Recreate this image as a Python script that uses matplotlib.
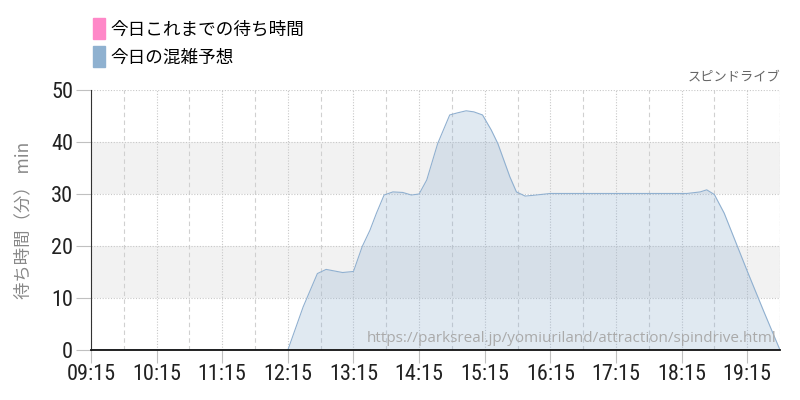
import matplotlib
matplotlib.use("Agg")
import matplotlib.pyplot as plt
from matplotlib import font_manager
from matplotlib.patches import Patch

plt.rcParams['font.family'] = ['Noto Sans CJK JP', 'DejaVu Sans']

# forecast curve (time, minutes)
times = ["09:15", "12:00", "12:06", "12:15", "12:29", "12:42", "12:50", "13:05",
         "13:15", "13:23", "13:30", "13:36", "13:43", "13:51", "14:00", "14:08",
         "14:15", "14:22", "14:32", "14:43", "14:50", "14:58", "15:05", "15:13",
         "15:21", "15:27", "15:38", "15:44", "15:52", "16:02", "16:15", "18:20",
         "18:32", "18:38", "18:45", "18:54", "19:15", "19:30", "19:45"]
forecast = [0, 0, -0.5, 0, 8.3, 14.7, 15.5, 14.9,
            15.1, 19.9, 23, 26.3, 29.8, 30.4, 30.3, 29.8,
            30, 32.7, 39.7, 45.2, 45.6, 46, 45.8, 45.2,
            42.3, 39.7, 33.3, 30.4, 29.6, 29.8, 30.1, 30.1,
            30.4, 30.8, 29.9, 26.3, 15.2, 7.5, 0]
today_actual = []  # no data yet

tick_labels = ["09:15", "10:15", "11:15", "12:15", "13:15", "14:15",
               "15:15", "16:15", "17:15", "18:15", "19:15"]
y_ticks = [0, 10, 20, 30, 40, 50]


def to_hours(s):
    h, m = s.split(":")
    return int(h) + int(m) / 60


x = [to_hours(t) for t in times]

installed = {f.name for f in font_manager.fontManager.ttflist}
if 'Roboto Condensed' in installed:
    num_font, num_size = ['Roboto Condensed', 'DejaVu Sans'], 16
else:
    num_font, num_size = ['Roboto', 'DejaVu Sans'], 14

fig = plt.figure(figsize=(8, 4), dpi=100)
ax = fig.add_axes([91 / 800, 50 / 400, 689 / 800, 260 / 400])

ax.set_xlim(to_hours("09:15"), to_hours("19:45"))
ax.set_ylim(0, 50)

# alternating bands
for lo in (10, 30):
    ax.axhspan(lo, lo + 10, color='#f2f2f2', zorder=0, lw=0)

ax.fill_between(x, forecast, 0, color='#90b0d0', alpha=0.28, lw=0, zorder=2)
ax.plot(x, forecast, color='#90b0d0', lw=0.8, zorder=3)
ax.plot([to_hours(t) for t in times[:len(today_actual)]], today_actual,
        color='#ff88cc', lw=1.5, zorder=4)

tick_pos = [to_hours(t) for t in tick_labels]
ax.set_xticks(tick_pos)
ax.set_xticklabels(tick_labels)
ax.set_xticks([p + 0.5 for p in tick_pos], minor=True)
ax.set_yticks(y_ticks)

ax.grid(True, which='major', axis='x', color='#c8c8c8', ls=(0, (1, 1.5)), lw=0.8, zorder=1)
ax.grid(True, which='minor', axis='x', color='#d0d0d0', ls=(0, (4, 3)), lw=0.8, zorder=1)
ax.grid(True, which='major', axis='y', color='#c8c8c8', ls=(0, (1, 1.5)), lw=0.8, zorder=1)
ax.axvline(to_hours("19:45"), color='#c8c8c8', ls=(0, (1, 1.5)), lw=0.8, zorder=1)

for s in ('top', 'right'):
    ax.spines[s].set_visible(False)
ax.spines['left'].set_color('#333333')
ax.spines['bottom'].set_color('#111111')
ax.spines['bottom'].set_linewidth(1.3)
ax.spines['bottom'].set_zorder(5)

ax.tick_params(axis='both', which='major', color='#c0c0c0', labelsize=num_size,
               labelcolor='#222222')
ax.tick_params(axis='y', which='major', length=11, pad=2)
ax.tick_params(axis='x', which='major', length=9, pad=1)
ax.tick_params(axis='x', which='minor', length=0)
for lab in ax.get_xticklabels() + ax.get_yticklabels():
    lab.set_family(num_font)

ax.set_ylabel('待ち時間（分） min', fontsize=12.5, color='#888888', labelpad=13)

fig.text(780 / 800, 1 - 77 / 400, 'スピンドライブ', ha='right', va='center',
         fontsize=9.5, color='#666666')
ax.text(0.995, 0.045, 'https://parksreal.jp/yomiuriland/attraction/spindrive.html',
        transform=ax.transAxes, ha='right', va='center', fontsize=11,
        color='#aaaaaa', family=['Open Sans', 'DejaVu Sans'], zorder=4)

handles = [Patch(color='#ff88c8', label='今日これまでの待ち時間'),
           Patch(color='#8fb1d0', label='今日の混雑予想')]
fig.legend(handles=handles, loc='upper left', bbox_to_anchor=(86 / 800, 1 - 11 / 400),
           frameon=False, fontsize=12.7, handlelength=0.68, handleheight=1.45,
           handletextpad=0.3, labelspacing=0.4, borderaxespad=0)

fig.savefig('out.png', dpi=100)
